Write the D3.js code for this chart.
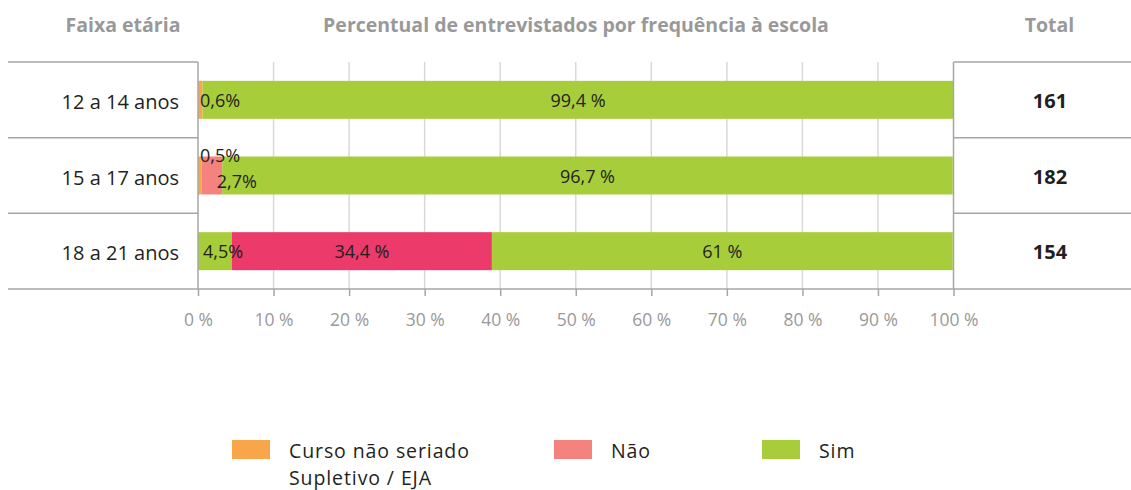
<!DOCTYPE html>
<html><head><meta charset="utf-8">
<script src="https://cdn.jsdelivr.net/npm/d3@7"></script>
<style>body{margin:0;background:#fff;} svg{display:block;}</style>
</head><body>
<svg id="c" width="1131" height="490"></svg>
<script>
const categories = ["12 a 14 anos", "15 a 17 anos", "18 a 21 anos"];
const curso = [0.6, 0.5, 4.5];
const nao = [0, 2.7, 34.4];
const sim = [99.4, 96.7, 61];
const totals = ["161", "182", "154"];
const cursoLabels = ["0,6%", "0,5%", "4,5%"];
const naoLabels = ["", "2,7%", "34,4 %"];
const simLabels = ["99,4 %", "96,7 %", "61 %"];
const xTicks = [0,10,20,30,40,50,60,70,80,90,100];
const seriesNames = ["Curso não seriado\nSupletivo / EJA", "Não", "Sim"];

const C = {curso:"#f9a64a", nao:"#f4827f", sim:"#a7cd3a", naoHi:"#ec3a6b"};
const font = "'Open Sans', sans-serif";
const svg = d3.select("#c");
const x = d3.scaleLinear().domain([0,100]).range([198,953.5]);
const y = d3.scaleBand().domain(categories).range([62,289]).paddingInner(0).paddingOuter(0);
const barH = 38;

// headers
const hdr = svg.append("g").attr("font-family", font).attr("font-weight", 700).attr("font-size", 19.5).attr("fill", "#999").attr("text-anchor","middle");
hdr.append("text").attr("x",123).attr("y",32).text("Faixa etária");
hdr.append("text").attr("x",576).attr("y",32).text("Percentual de entrevistados por frequência à escola");
hdr.append("text").attr("x",1049.5).attr("y",32).text("Total");

// gridlines
svg.append("g").selectAll("line").data(xTicks.filter(d=>d>0&&d<100)).join("line")
  .attr("x1",d=>x(d)).attr("x2",d=>x(d)).attr("y1",62).attr("y2",289)
  .attr("stroke","#d9d9d9").attr("stroke-width",1.5);

// row separators
const seps = [62, ...categories.map(c=>y(c)+y.bandwidth())];
seps.forEach(yy=>{
  svg.append("line").attr("x1",8).attr("x2",198).attr("y1",yy).attr("y2",yy).attr("stroke","#a6a6a6").attr("stroke-width",1.5);
  svg.append("line").attr("x1",953.5).attr("x2",1131).attr("y1",yy).attr("y2",yy).attr("stroke","#a6a6a6").attr("stroke-width",1.5);
});

// bars
const rows = categories.map((c,i)=>{
  const segs = [
    {key:"curso", v:curso[i], color: i===2 ? C.sim : C.curso},
    {key:"nao", v:nao[i], color: i===2 ? C.naoHi : C.nao},
    {key:"sim", v:sim[i], color: C.sim}
  ];
  let acc=0; segs.forEach(s=>{s.x0=acc; acc+=s.v; s.x1=acc;});
  return {c, i, segs};
});
const g = svg.append("g");
rows.forEach(r=>{
  const yy = y(r.c) + (y.bandwidth()-barH)/2;
  g.selectAll(null).data(r.segs.filter(s=>s.v>0)).join("rect")
    .attr("x",s=>x(s.x0)).attr("width",s=>x(s.x1)-x(s.x0))
    .attr("y",yy).attr("height",barH).attr("fill",s=>s.color);
});

// axis line & ticks
const axis = d3.axisBottom(x).tickValues(xTicks).tickSize(7).tickFormat(d=>d+" %");
const ax = svg.append("g").attr("transform","translate(0,289)").call(axis);
ax.select(".domain").remove();
ax.selectAll(".tick line").attr("stroke","#a6a6a6").attr("stroke-width",1.5);
ax.selectAll(".tick text").attr("font-family",font).attr("font-size",17.5).attr("fill","#999").attr("dy",0).attr("y",37);
svg.append("line").attr("x1",198).attr("x2",953.5).attr("y1",289).attr("y2",289).attr("stroke","#a6a6a6").attr("stroke-width",1.5);
[0,100].forEach(v=>svg.append("line").attr("x1",x(v)).attr("x2",x(v)).attr("y1",62).attr("y2",289).attr("stroke","#a6a6a6").attr("stroke-width",1.5));

// row labels
svg.append("g").selectAll("text").data(categories).join("text")
  .attr("x",179).attr("y",d=>y(d)+y.bandwidth()/2+9).attr("text-anchor","end")
  .attr("font-family",font).attr("font-size",20).attr("fill","#231f20").text(d=>d);
// totals
svg.append("g").selectAll("text").data(categories).join("text")
  .attr("x",1050).attr("y",d=>y(d)+y.bandwidth()/2+8).attr("text-anchor","middle")
  .attr("font-family",font).attr("font-weight",700).attr("font-size",20).attr("fill","#231f20")
  .text((d,i)=>totals[i]);

// bar value labels
const lab = svg.append("g").attr("font-family",font).attr("font-size",18).attr("fill","#231f20");
rows.forEach(r=>{
  const cy = y(r.c)+y.bandwidth()/2;
  const i=r.i;
  if(i===1){
    lab.append("text").attr("x",x(0)+2).attr("y",cy-13.5).text(cursoLabels[i]);
  } else {
    lab.append("text").attr("x",x(0)+(i===2?5:2)).attr("y",cy+7).text(cursoLabels[i]);
  }
  if(naoLabels[i]){
    if(i===1){
      lab.append("text").attr("x",x(r.segs[1].x0)+15).attr("y",cy+12.5).text(naoLabels[i]);
    } else {
      lab.append("text").attr("x",(x(r.segs[1].x0)+x(r.segs[1].x1))/2).attr("y",cy+7).attr("text-anchor","middle").text(naoLabels[i]);
    }
  }
  lab.append("text").attr("x",(x(r.segs[2].x0)+x(r.segs[2].x1))/2).attr("y",cy+7).attr("text-anchor","middle").text(simLabels[i]);
});

// legend
const legX = [232, 554, 762];
const legC = [C.curso, C.nao, C.sim];
const lg = svg.append("g").attr("font-family",font).attr("font-size",19.5).attr("letter-spacing",0.9).attr("fill","#231f20");
seriesNames.forEach((n,i)=>{
  lg.append("rect").attr("x",legX[i]).attr("y",440).attr("width",38).attr("height",19).attr("fill",legC[i]);
  n.split("\n").forEach((s,j)=>{
    lg.append("text").attr("x",legX[i]+57).attr("y",458+j*27).text(s);
  });
});
</script>
</body></html>
